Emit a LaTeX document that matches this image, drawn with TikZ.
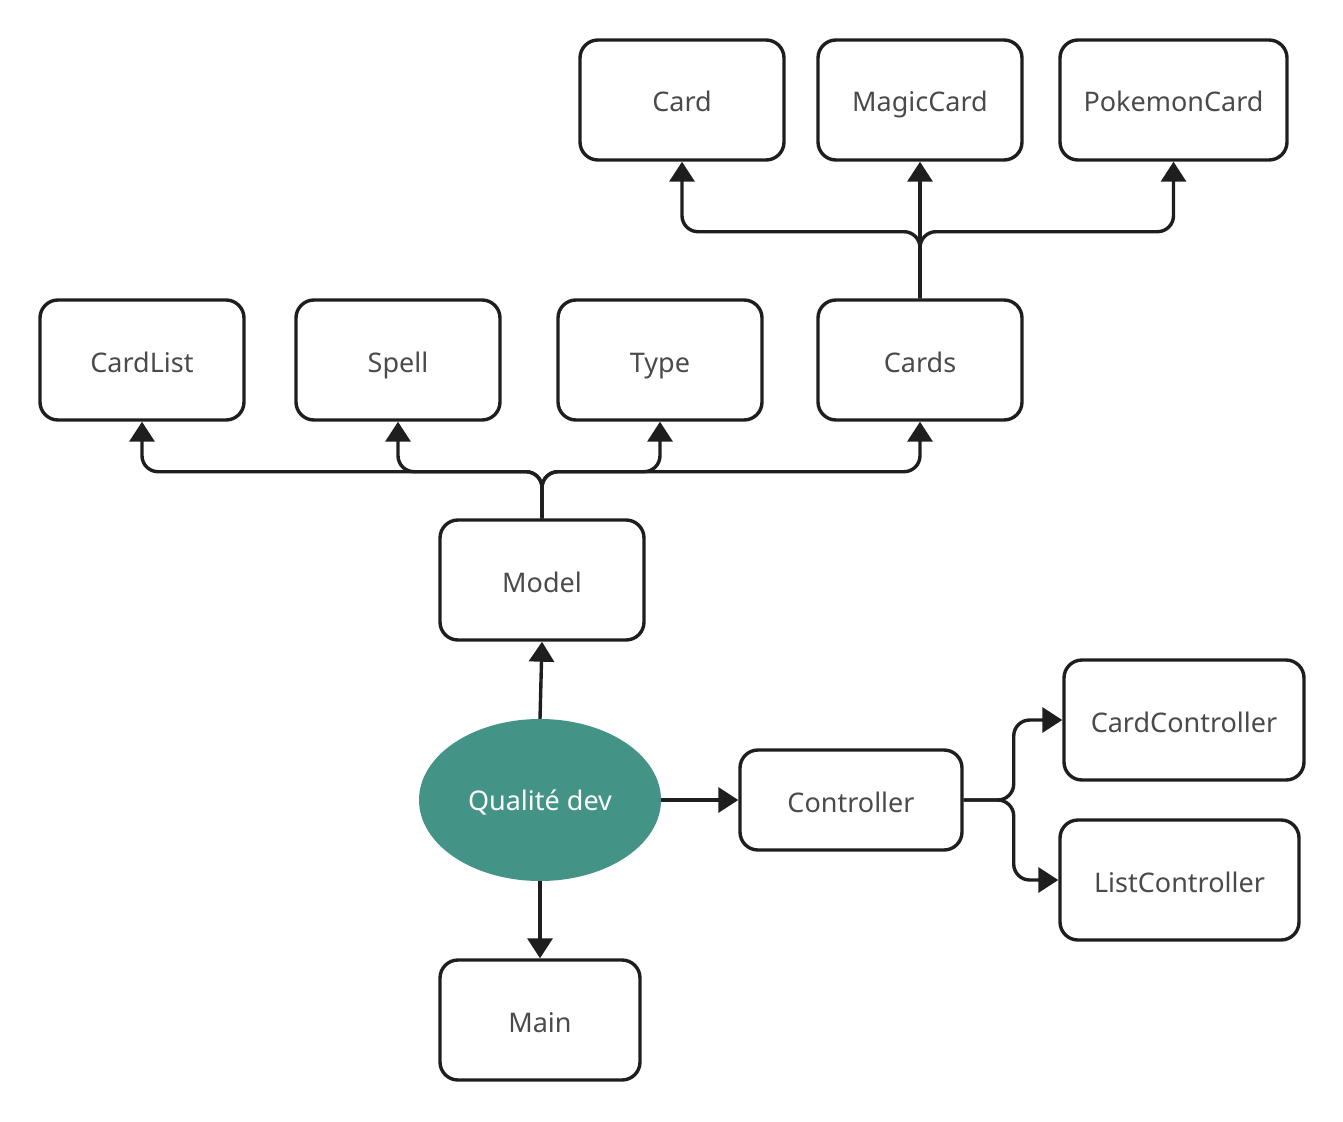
\documentclass[tikz,border=0pt]{standalone}
\usepackage{fontspec}
\setmainfont{Noto Sans}
\usetikzlibrary{arrows.meta,calc,shapes.geometric}
\definecolor{txt}{HTML}{4A4A4A}
\definecolor{qteal}{HTML}{439487}
\definecolor{ln}{HTML}{1E1E1E}
\begin{document}
\begin{tikzpicture}[x=1pt,y=-1pt,
  box/.style={draw=ln,line width=3.4pt,rounded corners=18pt,minimum height=120pt,inner sep=0pt,text=txt,font=\fontsize{27}{32}\selectfont,text height=26pt,text depth=2pt},
  conn/.style={draw=ln,line width=3.4pt,rounded corners=16pt,-{Triangle[width=25pt,length=20pt]}}]
\useasboundingbox (0,0) rectangle (1343,1121);
\node[box,minimum width=204pt] (card) at (682,100) {Card};
\node[box,minimum width=204pt] (magic) at (920,100) {MagicCard};
\node[box,minimum width=227pt] (poke) at (1173.5,100) {PokemonCard};
\node[box,minimum width=204pt] (cardlist) at (142,360) {CardList};
\node[box,minimum width=204pt] (spell) at (398,360) {Spell};
\node[box,minimum width=204pt] (type) at (660,360) {Type};
\node[box,minimum width=204pt] (cards) at (920,360) {Cards};
\node[box,minimum width=204pt] (model) at (542,580) {Model};
\node[ellipse,fill=qteal,minimum width=242pt,minimum height=162pt,inner sep=0pt,text=white,font=\fontsize{27}{32}\selectfont,text height=22pt,text depth=2pt] (q) at (540,800) {Qualité dev};
\node[box,minimum width=222pt,minimum height=100pt] (ctrl) at (851,800) {Controller};
\node[box,minimum width=240pt] (cc) at (1184,720) {CardController};
\node[box,minimum width=239pt] (lc) at (1179.5,880) {ListController};
\node[box,minimum width=200pt] (main) at (540,1020) {Main};
% Cards branches
\draw[conn] (cards.north) |- ($(card.south)+(0,70)$) -- (card.south);
\draw[conn] (cards.north) -- (magic.south);
\draw[conn] (cards.north) |- ($(poke.south)+(0,70)$) -- (poke.south);
% Model branches
\draw[conn] (model.north) |- ($(cardlist.south)+(0,50)$) -- (cardlist.south);
\draw[conn] (model.north) |- ($(spell.south)+(0,50)$) -- (spell.south);
\draw[conn] (model.north) |- ($(type.south)+(0,50)$) -- (type.south);
\draw[conn] (model.north) |- ($(cards.south)+(0,50)$) -- (cards.south);
% Qualite
\draw[conn] (q.north) -- (model.south);
\draw[conn] (q.east) -- (ctrl.west);
\draw[conn] (q.south) -- (main.north);
% Controller branches
\coordinate (mid) at ($(ctrl.east)+(50,0)$);
\draw[conn] (ctrl.east) -- (mid) |- (cc.west);
\draw[conn] (ctrl.east) -- (mid) |- (lc.west);
\end{tikzpicture}
\end{document}
